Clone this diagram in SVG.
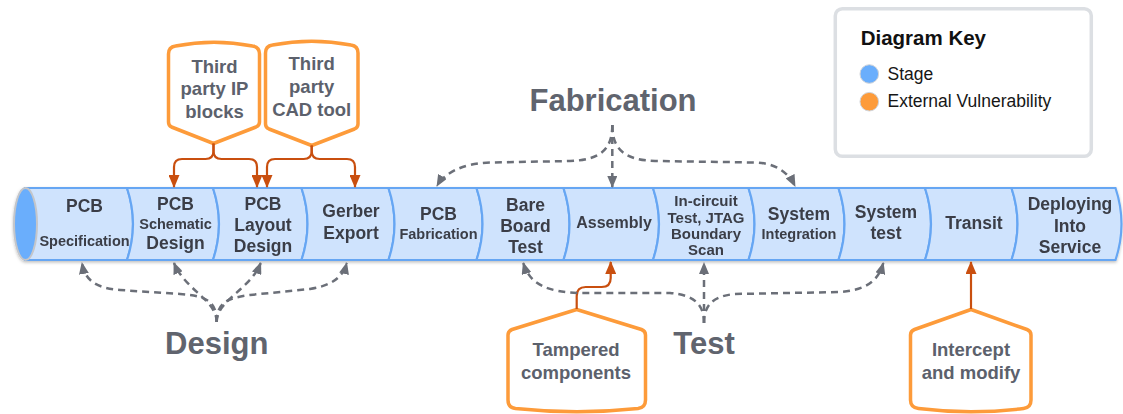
<svg xmlns="http://www.w3.org/2000/svg" width="1123" height="414" viewBox="0 0 1123 414">
<defs>
<style>
.seg{fill:#cfe3fd;stroke:#66a6f3;stroke-width:2.2}
.st{font-family:"Liberation Sans",Arial,sans-serif;font-weight:bold;fill:#3a3e47;text-anchor:middle}
.f17{font-size:17.5px}.f14{font-size:14.5px}.f15{font-size:15px}.f16{font-size:16px}
.co{fill:#fff;stroke:#fd9b3a;stroke-width:3.5;stroke-linejoin:round}
.ct{font-family:"Liberation Sans",Arial,sans-serif;font-weight:bold;font-size:18.5px;fill:#5c616c;text-anchor:middle}
.lb{font-family:"Liberation Sans",Arial,sans-serif;font-weight:bold;font-size:31px;fill:#60646e;text-anchor:middle}
.oa{fill:none;stroke:#c94f0f;stroke-width:2.2;marker-end:url(#ao)}
.ga{fill:none;stroke:#6b6f78;stroke-width:2.5;stroke-dasharray:7 5;marker-end:url(#ag)}
.kt{font-family:"Liberation Sans",Arial,sans-serif;font-size:17.5px;fill:#161616}
</style>
<marker id="ao" markerUnits="userSpaceOnUse" viewBox="0 0 13 11" markerWidth="13" markerHeight="11" refX="12" refY="5.5" orient="auto"><path d="M0,0 L13,5.5 L0,11 Z" fill="#c94f0f"/></marker>
<marker id="ag" markerUnits="userSpaceOnUse" viewBox="0 0 12 10" markerWidth="12" markerHeight="10" refX="11" refY="5" orient="auto"><path d="M0,0 L12,5 L0,10 Z" fill="#6b6f78"/></marker>
<filter id="sh" x="-5%" y="-20%" width="110%" height="140%"><feDropShadow dx="0" dy="1.5" stdDeviation="1.5" flood-color="#000" flood-opacity="0.25"/></filter>
</defs>
<rect width="1123" height="414" fill="#fff"/>

<g id="pipeline" filter="url(#sh)">
<g id="s1"><path class="seg" d="M25,188 L127,188 Q139,224 127,260 L25,260 Z"/><text class="st f17" x="84.5" y="212">PCB</text><text class="st f14" x="84.5" y="245.5">Specification</text></g>
<g id="s2"><path class="seg" d="M127,188 L213,188 Q225,224 213,260 L127,260 Q139,224 127,188 Z"/><text class="st f17" x="175.5" y="210">PCB</text><text class="st f14" x="175.5" y="229">Schematic</text><text class="st f17" x="175.5" y="248.5">Design</text></g>
<g id="s3"><path class="seg" d="M213,188 L301.5,188 Q313.5,224 301.5,260 L213,260 Q225,224 213,188 Z"/><text class="st f17" x="263" y="210">PCB</text><text class="st f17" x="263" y="231">Layout</text><text class="st f17" x="263" y="252">Design</text></g>
<g id="s4"><path class="seg" d="M301.5,188 L388.5,188 Q400.5,224 388.5,260 L301.5,260 Q313.5,224 301.5,188 Z"/><text class="st f17" x="351" y="217">Gerber</text><text class="st f17" x="351" y="239">Export</text></g>
<g id="s5"><path class="seg" d="M388.5,188 L476.5,188 Q488.5,224 476.5,260 L388.5,260 Q400.5,224 388.5,188 Z"/><text class="st f17" x="438.5" y="220">PCB</text><text class="st f14" x="438.5" y="238.5">Fabrication</text></g>
<g id="s6"><path class="seg" d="M476.5,188 L563.5,188 Q575.5,224 563.5,260 L476.5,260 Q488.5,224 476.5,188 Z"/><text class="st f17" x="525.5" y="210.5">Bare</text><text class="st f17" x="525.5" y="232">Board</text><text class="st f17" x="525.5" y="252.5">Test</text></g>
<g id="s7"><path class="seg" d="M563.5,188 L653,188 Q665,224 653,260 L563.5,260 Q575.5,224 563.5,188 Z"/><text class="st f16" x="614" y="228">Assembly</text></g>
<g id="s8"><path class="seg" d="M653,188 L748.5,188 Q760.5,224 748.5,260 L653,260 Q665,224 653,188 Z"/><text class="st f15" x="706" y="205.5">In-circuit</text><text class="st f15" x="706" y="222.5">Test, JTAG</text><text class="st f15" x="706" y="238.5">Boundary</text><text class="st f15" x="706" y="255">Scan</text></g>
<g id="s9"><path class="seg" d="M748.5,188 L838.5,188 Q850.5,224 838.5,260 L748.5,260 Q760.5,224 748.5,188 Z"/><text class="st f17" x="799" y="220">System</text><text class="st f14" x="799" y="238.5">Integration</text></g>
<g id="s10"><path class="seg" d="M838.5,188 L925,188 Q937,224 925,260 L838.5,260 Q850.5,224 838.5,188 Z"/><text class="st f17" x="886" y="218">System</text><text class="st f17" x="886" y="239">test</text></g>
<g id="s11"><path class="seg" d="M925,188 L1011.5,188 Q1023.5,224 1011.5,260 L925,260 Q937,224 925,188 Z"/><text class="st f17" x="974" y="229">Transit</text></g>
<g id="s12"><path class="seg" d="M1011.5,188 L1115.5,188 Q1127.5,224 1115.5,260 L1011.5,260 Q1023.5,224 1011.5,188 Z"/><text class="st f17" x="1070" y="210">Deploying</text><text class="st f17" x="1070" y="231.5">Into</text><text class="st f17" x="1070" y="252.5">Service</text></g>
<ellipse id="pipe-end" cx="25.5" cy="224" rx="11.5" ry="36" fill="#6aaefc" stroke="#c4c6ca" stroke-width="2"/>
</g>

<g id="callout-ip"><path class="co" d="M168.5,54 Q168.5,47 175.5,46 Q214,38.5 252.5,46 Q259.5,47 259.5,54 V122 Q259.5,125.5 256,127 L213.5,143.5 L171.5,127 Q168.5,125.5 168.5,122 Z"/><text class="ct" x="214.5" y="72.5">Third</text><text class="ct" x="214.5" y="95">party IP</text><text class="ct" x="214.5" y="117.5">blocks</text></g>
<g id="callout-cad"><path class="co" d="M265.5,53 Q265.5,46 272.5,45 Q311.7,37.5 351,45 Q358,46 358,53 V124 Q358,127.5 354.5,129 L311.7,145.5 L269,129 Q265.5,127.5 265.5,124 Z"/><text class="ct" x="311.7" y="70">Third</text><text class="ct" x="311.7" y="93">party</text><text class="ct" x="311.7" y="116">CAD tool</text></g>
<g id="callout-tampered"><path class="co" d="M576.7,309.5 L641.5,329.5 Q645.5,331 645.5,335 V400 Q645.5,407.5 638,408.5 Q577,415 515.5,408.5 Q508,407.5 508,400 V335 Q508,331 512,329.5 Z"/><text class="ct" x="576" y="356">Tampered</text><text class="ct" x="576" y="378.5">components</text></g>
<g id="callout-intercept"><path class="co" d="M971,309.5 L1027,329.5 Q1031,331 1031,335 V400 Q1031,407.5 1023.5,408.5 Q971,415 918.5,408.5 Q910.5,407.5 910.5,400 V335 Q910.5,331 914.5,329.5 Z"/><text class="ct" x="971" y="356">Intercept</text><text class="ct" x="971" y="378.5">and modify</text></g>

<g id="label-fabrication"><text class="lb" x="613" y="110.5">Fabrication</text></g>
<g id="label-design"><text class="lb" x="216.7" y="353.5">Design</text></g>
<g id="label-test"><text class="lb" x="704" y="354">Test</text></g>

<g id="key">
<rect x="835.3" y="8.7" width="256" height="147.6" rx="7" fill="#fff" stroke="#dcdfe3" stroke-width="3.5"/>
<text x="860.7" y="45" font-family="'Liberation Sans',Arial,sans-serif" font-weight="bold" font-size="20.5" fill="#111">Diagram Key</text>
<circle cx="869.3" cy="74" r="9.3" fill="#6aaefc" stroke="#d0d3d8" stroke-width="1"/>
<text class="kt" x="887.5" y="79.5">Stage</text>
<circle cx="869.3" cy="101.7" r="9.3" fill="#fd9b3a" stroke="#d0d3d8" stroke-width="1"/>
<text class="kt" x="887.5" y="107">External Vulnerability</text>
</g>

<g id="connectors">
<path class="oa" d="M213.5,143.5 V151 Q213.5,159 205.5,159 H182 Q174,159 174,167 V187"/>
<path class="oa" d="M213.5,143.5 V151 Q213.5,159 221.5,159 H249 Q257,159 257,167 V187"/>
<path class="oa" d="M311.7,145.5 V151 Q311.7,159 303.7,159 H275 Q267,159 267,167 V187"/>
<path class="oa" d="M311.7,145.5 V151 Q311.7,159 319.7,159 H347 Q355,159 355,167 V187"/>
<path class="oa" d="M576.7,309 V296 Q576.7,287 585.7,287 H601.7 Q610.7,287 610.7,278 V262"/>
<path class="oa" d="M971,309 V262"/>

<path class="ga" d="M612.3,125 C612.3,150 600,160 570,161 L490,162.5 C465,163 445,172 437,186"/>
<path class="ga" d="M612.3,125 V187"/>
<path class="ga" d="M612.3,125 C612.3,150 625,160 655,161 L755,162.5 C775,163 788,172 795,186"/>

<path class="ga" d="M216.7,322 C216.7,300 205,296 180,294 L120,290 C95,288 85,280 82,263"/>
<path class="ga" d="M216.7,322 C216.7,300 185,290 174,263"/>
<path class="ga" d="M216.7,322 C216.7,300 250,290 260.7,263"/>
<path class="ga" d="M216.7,322 C216.7,302 228,298 250,295 L310,289 C330,286 343,278 346.7,263"/>

<path class="ga" d="M704,323 C704,305 695,295 670,293 L580,293 C548,292 530,285 523.3,263"/>
<path class="ga" d="M704,323 V263"/>
<path class="ga" d="M704,323 C704,305 713,296 735,294 L840,292 C865,290 878,282 883.3,263"/>
</g>
</svg>
